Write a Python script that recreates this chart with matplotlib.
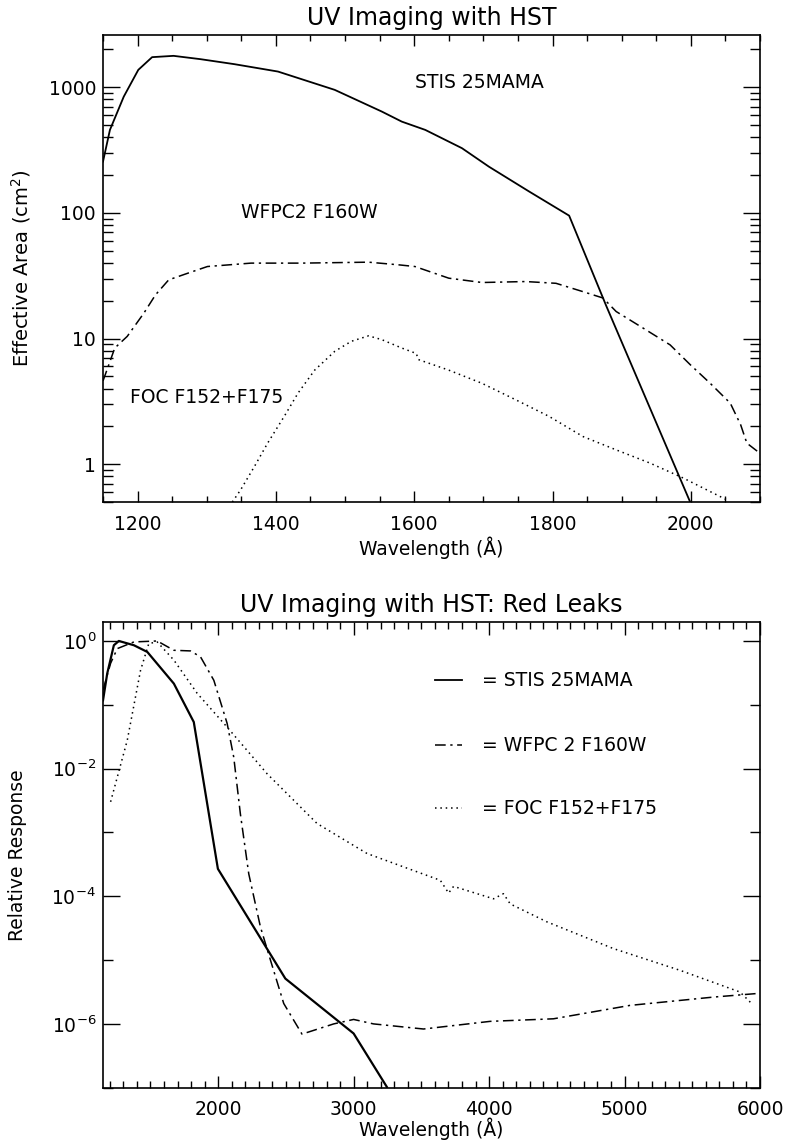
import numpy as np
import matplotlib.pyplot as plt
from matplotlib.ticker import FixedLocator, MultipleLocator, NullFormatter, FixedFormatter

plt.rcParams['font.family'] = ['DejaVu Sans']
plt.rcParams['mathtext.fontset'] = 'dejavusans'

# ---- top panel: effective area (cm^2) vs wavelength (A) ----
stis_wl = [1150, 1160, 1180, 1201, 1221, 1252, 1291, 1340, 1403, 1485, 1553,
           1582, 1616, 1669, 1708, 1766, 1824, 1878, 1999]
stis_area = [256, 457, 841, 1373, 1733, 1775, 1670, 1524, 1331, 952, 640,
             532, 457, 327, 233, 148, 95, 18, 0.5]

wfpc_wl = [1150, 1167, 1185, 1209, 1226, 1245, 1272, 1301, 1364, 1437, 1534,
           1577, 1601, 1650, 1698, 1761, 1805, 1844, 1873, 1892, 1931, 1970,
           1999, 2028, 2057, 2072, 2081, 2100]
wfpc_area = [4.6, 8.4, 10.4, 15.9, 22.3, 29.3, 33, 37.4, 39.8, 39.8, 40.5,
             38.6, 37.4, 30.2, 27.9, 28.4, 27.5, 23.6, 21, 16.4, 12.1, 8.9,
             6.2, 4.4, 3.06, 2.06, 1.47, 1.22]

foc_wl = [1337, 1349, 1369, 1388, 1412, 1432, 1456, 1485, 1509, 1534, 1553,
          1582, 1603, 1606, 1650, 1698, 1747, 1795, 1844, 1892, 1941, 1989,
          2018, 2052]
foc_area = [0.5, 0.625, 0.96, 1.47, 2.4, 3.68, 5.6, 7.9, 9.5, 10.5, 9.8,
            8.4, 7.6, 6.8, 5.6, 4.4, 3.25, 2.4, 1.66, 1.3, 1.02, 0.776,
            0.645, 0.52]

# ---- bottom panel: relative response (log10) ----
stis_wl2 = [1150, 1181, 1230, 1267, 1378, 1477, 1673, 1820, 1998, 2496, 3000, 3246]
stis_log = [-0.93, -0.51, -0.067, 0.0, -0.067, -0.172, -0.668, -1.27, -3.57,
            -5.29, -6.15, -6.99]

wfpc_wl2 = [1150, 1206, 1255, 1378, 1550, 1673, 1796, 1870, 1968, 2066, 2115,
            2164, 2226, 2312, 2386, 2484, 2619, 2853, 3000, 3147, 3516, 4008,
            4475, 5040, 5655, 6000]
wfpc_log = [-0.77, -0.35, -0.12, -0.015, 0.0, -0.146, -0.156, -0.25, -0.616,
            -1.29, -1.82, -2.71, -3.65, -4.48, -5.0, -5.68, -6.16, -6.0, -5.93,
            -6.0, -6.08, -5.96, -5.92, -5.71, -5.58, -5.52]

foc_wl2 = [1206, 1329, 1427, 1488, 1550, 1673, 1845, 2066, 2361, 2730, 3099,
           3343, 3640, 3701, 3738, 4033, 4106, 4156, 4426, 4918, 5409, 5852, 5938]
foc_log = [-2.52, -1.556, -0.46, -0.04, -0.015, -0.3, -0.82, -1.35, -2.08,
           -2.86, -3.33, -3.52, -3.75, -3.95, -3.845, -4.04, -3.96, -4.12,
           -4.40, -4.82, -5.16, -5.50, -5.68]

legend_names = ['= STIS 25MAMA', '= WFPC 2 F160W', '= FOC F152+F175']

DASHDOT = (0, (7, 3, 1.5, 3))
DOTTED = (0, (1, 2.5))
FS = 13.5

fig = plt.figure(figsize=(7.87, 11.48), dpi=100)
ax1 = fig.add_axes([0.1309, 0.5627, 0.8348, 0.4068])
ax2 = fig.add_axes([0.1309, 0.0525, 0.8348, 0.4059])


def style_axes(ax, ymaj, ymin, xmaj, xmin):
    for s in ax.spines.values():
        s.set_linewidth(1.2)
    ax.tick_params(axis='both', which='both', direction='in',
                   top=True, right=True, labelsize=FS, width=1.0)
    ax.tick_params(axis='y', which='major', length=ymaj, pad=5)
    ax.tick_params(axis='y', which='minor', length=ymin)
    ax.tick_params(axis='x', which='major', length=xmaj, pad=9)
    ax.tick_params(axis='x', which='minor', length=xmin)


# top
ax1.plot(stis_wl, stis_area, color='black', lw=1.3)
ax1.plot(wfpc_wl, wfpc_area, color='black', lw=1.1, linestyle=DASHDOT)
ax1.plot(foc_wl, foc_area, color='black', lw=1.1, linestyle=DOTTED)
ax1.set_yscale('log')
ax1.set_xlim(1150, 2100)
ax1.set_ylim(0.5, 2600)
ax1.xaxis.set_major_locator(MultipleLocator(200))
ax1.xaxis.set_minor_locator(MultipleLocator(50))
ax1.yaxis.set_major_locator(FixedLocator([1, 10, 100, 1000]))
ax1.yaxis.set_major_formatter(FixedFormatter(['1', '10', '100', '1000']))
minors = [m * d for d in [0.1, 1, 10, 100, 1000] for m in range(2, 10)]
ax1.yaxis.set_minor_locator(FixedLocator(minors))
ax1.yaxis.set_minor_formatter(NullFormatter())
style_axes(ax1, 12, 7, 8, 4)
ax1.set_title('UV Imaging with HST', fontsize=17, pad=7)
ax1.set_xlabel('Wavelength (Å)', fontsize=FS)
ax1.set_ylabel('Effective Area (cm$^2$)', fontsize=14)
ax1.xaxis.set_label_coords(0.5, -0.073)
ax1.yaxis.set_label_coords(-0.106, 0.5)
ax1.text(1601, 1080, 'STIS 25MAMA', fontsize=FS, va='center')
ax1.text(1349, 100, 'WFPC2 F160W', fontsize=FS, va='center')
ax1.text(1189, 3.37, 'FOC F152+F175', fontsize=FS, va='center')

# bottom
ax2.plot(stis_wl2, 10 ** np.array(stis_log), color='black', lw=1.6)
ax2.plot(wfpc_wl2, 10 ** np.array(wfpc_log), color='black', lw=1.1, linestyle=DASHDOT)
ax2.plot(foc_wl2, 10 ** np.array(foc_log), color='black', lw=1.1, linestyle=DOTTED)
ax2.set_yscale('log')
ax2.set_xlim(1150, 6000)
ax2.set_ylim(1e-7, 2)
ax2.xaxis.set_major_locator(MultipleLocator(1000))
ax2.xaxis.set_minor_locator(MultipleLocator(100))
ax2.yaxis.set_major_locator(FixedLocator([1e-6, 1e-4, 1e-2, 1e0]))
ax2.yaxis.set_major_formatter(FixedFormatter([r'$10^{-6}$', r'$10^{-4}$',
                                              r'$10^{-2}$', r'$10^{0}$']))
ax2.yaxis.set_minor_locator(FixedLocator([1e-7, 1e-5, 1e-3, 1e-1]))
ax2.yaxis.set_minor_formatter(NullFormatter())
style_axes(ax2, 12, 7, 9, 5)
ax2.set_title('UV Imaging with HST: Red Leaks', fontsize=17, pad=7)
ax2.set_xlabel('Wavelength (Å)', fontsize=FS)
ax2.set_ylabel('Relative Response', fontsize=FS)
ax2.xaxis.set_label_coords(0.5, -0.063)
ax2.yaxis.set_label_coords(-0.115, 0.5)

styles = [('solid', 1.3), (DASHDOT, 1.1), (DOTTED, 1.1)]
rows = [0.875, 0.735, 0.60]
for (ls, lw), yy, name in zip(styles, rows, legend_names):
    ax2.plot([0.505, 0.546], [yy, yy], transform=ax2.transAxes,
             color='black', lw=lw, linestyle=ls)
    ax2.text(0.577, yy, name, transform=ax2.transAxes, fontsize=FS, va='center')

fig.savefig('out.png', dpi=100)
